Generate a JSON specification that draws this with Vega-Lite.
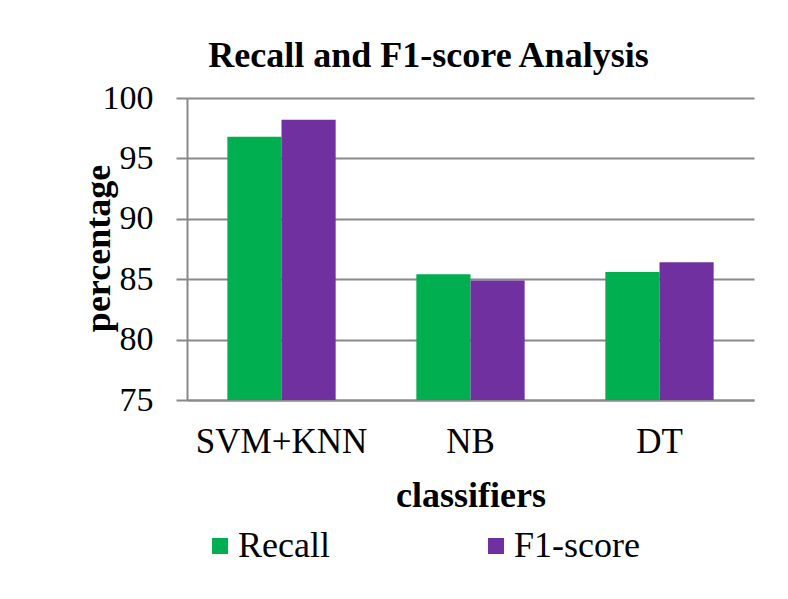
{
  "$schema": "https://vega.github.io/schema/vega-lite/v6.json",
  "width": 567,
  "height": 302,
  "autosize": {"type": "none"},
  "padding": {"left": 187, "top": 98, "right": 34, "bottom": 199},
  "background": "white",
  "data": {
    "values": [
      {"classifier": "SVM+KNN", "metric": "Recall", "value": 96.8},
      {"classifier": "SVM+KNN", "metric": "F1-score", "value": 98.2},
      {"classifier": "NB", "metric": "Recall", "value": 85.4},
      {"classifier": "NB", "metric": "F1-score", "value": 84.9},
      {"classifier": "DT", "metric": "Recall", "value": 85.6},
      {"classifier": "DT", "metric": "F1-score", "value": 86.4}
    ]
  },
  "title": {
    "text": "Recall and F1-score Analysis",
    "font": "Liberation Serif",
    "fontSize": 36,
    "fontWeight": "bold",
    "color": "black",
    "anchor": "middle",
    "baseline": "alphabetic",
    "dx": -42,
    "offset": -22
  },
  "mark": {"type": "bar", "clip": true},
  "encoding": {
    "x": {
      "field": "classifier",
      "type": "nominal",
      "sort": ["SVM+KNN", "NB", "DT"],
      "scale": {"paddingInner": 0.427, "paddingOuter": 0.2135},
      "axis": {
        "title": "classifiers",
        "titleFont": "Liberation Serif",
        "titleFontSize": 36,
        "titleFontWeight": "bold",
        "titleColor": "black",
        "titleBaseline": "alphabetic",
        "titleY": 106,
        "labelAngle": 0,
        "labelFont": "Liberation Serif",
        "labelFontSize": 35,
        "labelColor": "black",
        "labelBaseline": "alphabetic",
        "labelPadding": 52,
        "ticks": false,
        "tickSize": 0,
        "domainColor": "#898989",
        "domainWidth": 2,
        "grid": false
      }
    },
    "xOffset": {
      "field": "metric",
      "type": "nominal",
      "sort": ["Recall", "F1-score"],
      "scale": {"paddingInner": 0, "paddingOuter": 0}
    },
    "y": {
      "field": "value",
      "type": "quantitative",
      "scale": {"domain": [75, 100], "nice": false, "zero": false},
      "axis": {
        "title": "percentage",
        "titleFont": "Liberation Serif",
        "titleFontSize": 36,
        "titleFontWeight": "bold",
        "titleColor": "black",
        "titleAngle": -90,
        "titleAlign": "center",
        "titleBaseline": "alphabetic",
        "titleX": -78,
        "titleY": 150,
        "values": [75, 80, 85, 90, 95, 100],
        "labelFont": "Liberation Serif",
        "labelFontSize": 34,
        "labelColor": "black",
        "labelPadding": 23,
        "tickSize": 11,
        "tickColor": "#898989",
        "tickWidth": 2,
        "domainColor": "#898989",
        "domainWidth": 2,
        "grid": true,
        "gridColor": "#898989",
        "gridWidth": 2
      }
    },
    "color": {
      "field": "metric",
      "type": "nominal",
      "sort": ["Recall", "F1-score"],
      "scale": {"domain": ["Recall", "F1-score"], "range": ["#00B050", "#7030A0"]},
      "legend": {
        "title": null,
        "orient": "none",
        "direction": "horizontal",
        "legendX": 15,
        "legendY": 430,
        "symbolType": "square",
        "symbolSize": 256,
        "symbolStrokeWidth": 0,
        "symbolOpacity": 1,
        "labelFont": "Liberation Serif",
        "labelFontSize": 36,
        "labelColor": "black",
        "labelOffset": 0,
        "columnPadding": 148,
        "padding": 0
      }
    }
  },
  "config": {
    "view": {"stroke": null}
  }
}
